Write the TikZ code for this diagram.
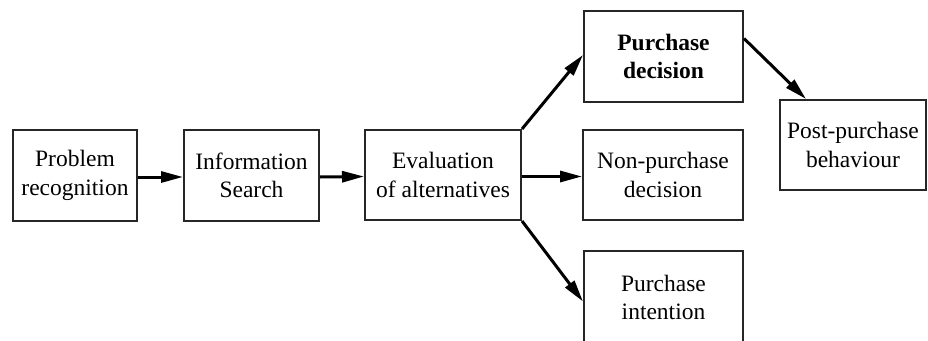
\documentclass[tikz,border=0pt]{standalone}
\usepackage{fontspec}
\setmainfont{Liberation Serif}
\usetikzlibrary{arrows.meta}
\begin{document}
\begin{tikzpicture}[x=1pt,y=-1pt,
  box/.style={draw=black!85, line width=2pt, fill=white, align=center, inner sep=0pt,
    font=\fontsize{23.5}{28.5}\selectfont},
  conn/.style={line width=3pt, -{Triangle[length=22pt,width=11pt]}}]
\useasboundingbox (0,0) rectangle (928,340);
\node[box, minimum width=124pt, minimum height=91pt] (b1) at (75,175.5) {Problem\\recognition};
\node[box, minimum width=135pt, minimum height=91pt] (b2) at (251.5,175.5) {Information\\Search};
\node[box, minimum width=156pt, minimum height=90pt] (b3) at (443,175) {Evaluation\\of alternatives};
\node[box, minimum width=159pt, minimum height=91pt] (pd) at (663.5,56.5) {\bfseries Purchase\\\bfseries decision};
\node[box, minimum width=160pt, minimum height=90pt] (np) at (663,175) {Non-purchase\\decision};
\node[box, minimum width=159pt, minimum height=93pt] (pi) at (663.5,297.5) {Purchase\\intention};
\node[box, minimum width=146pt, minimum height=90pt] (pp) at (853,145) {Post-purchase\\behaviour};
\draw[conn] ([yshift=-1.5pt]b1.east) -- ([yshift=-1.5pt]b2.west);
\draw[conn] ([yshift=-1.5pt]b2.east) -- ([yshift=-1.5pt]b3.west);
\draw[conn] (b3.north east) -- ([yshift=1.5pt]pd.west);
\draw[conn] ([yshift=-1.5pt]b3.east) -- ([yshift=-1.5pt]np.west);
\draw[conn] (b3.south east) -- ([yshift=-4pt]pi.west);
\draw[conn] ([yshift=-28.5pt]pd.north east) -- ([xshift=27pt]pp.north west);
\end{tikzpicture}
\end{document}
